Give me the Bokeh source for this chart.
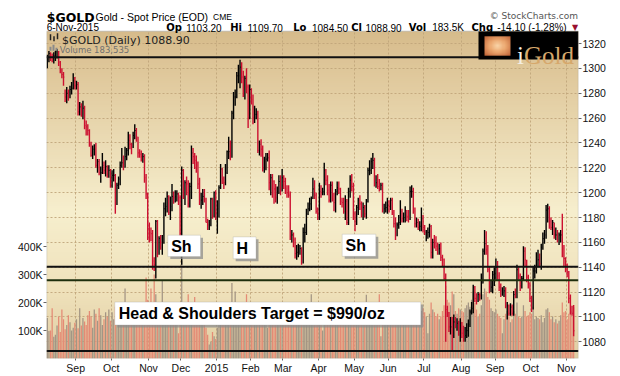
import numpy as np
import pandas as pd
from bokeh.plotting import figure
from bokeh.models import Range1d, LinearAxis, FixedTicker, Label, BoxAnnotation
from bokeh.embed import file_html
from bokeh.resources import INLINE

# ---------------- data ----------------
START = "2014-08-06"
END = "2015-11-06"
HOLIDAYS = ["2014-12-25", "2015-01-01"]

close = [
    # Aug 2014
    1307, 1312, 1310, 1309, 1310, 1314, 1315, 1305, 1298, 1295, 1293, 1277, 1280, 1277, 1283, 1284, 1290, 1286,
    # Sep 2014
    1287, 1265, 1269, 1262, 1268, 1254, 1253, 1250, 1239, 1230, 1235, 1235, 1222, 1225, 1216, 1216, 1222, 1218, 1221, 1215, 1218, 1209,
    # Oct 2014
    1214, 1214, 1192, 1206, 1211, 1222, 1224, 1222, 1229, 1234, 1242, 1239, 1238, 1246, 1250, 1245, 1232, 1231, 1229, 1229, 1212, 1199, 1171,
    # Nov 2014
    1168, 1167, 1145, 1142, 1177, 1151, 1163, 1160, 1161, 1187, 1189, 1197, 1184, 1189, 1197, 1196, 1197, 1199, 1196, 1167,
    # Dec 2014
    1218, 1198, 1208, 1207, 1191, 1205, 1232, 1229, 1226, 1222, 1207, 1194, 1194, 1197, 1195, 1176, 1174, 1174, 1195, 1181, 1200, 1184,
    # Jan 2015
    1187, 1204, 1219, 1211, 1208, 1216, 1233, 1233, 1230, 1264, 1277, 1277, 1294, 1294, 1301, 1293, 1279, 1292, 1285, 1260, 1283,
    # Feb 2015
    1275, 1260, 1263, 1263, 1234, 1239, 1235, 1220, 1220, 1227, 1228, 1208, 1212, 1209, 1203, 1196, 1201, 1209, 1204, 1212,
    # Mar 2015
    1209, 1203, 1200, 1198, 1165, 1166, 1162, 1151, 1152, 1153, 1155, 1148, 1168, 1168, 1183, 1187, 1191, 1195, 1203, 1198, 1185, 1183,
    # Apr 2015
    1201, 1200, 1201, 1218, 1210, 1202, 1194, 1206, 1195, 1192, 1201, 1204, 1203, 1193, 1192, 1185, 1193, 1176, 1201, 1210, 1205, 1182,
    # May 2015
    1177, 1188, 1194, 1191, 1183, 1188, 1183, 1193, 1218, 1218, 1225, 1226, 1207, 1208, 1205, 1204, 1206, 1186, 1187, 1188, 1190,
    # Jun 2015
    1189, 1194, 1184, 1175, 1168, 1174, 1176, 1185, 1179, 1180, 1186, 1181, 1180, 1201, 1201, 1185, 1175, 1176, 1172, 1173, 1179, 1172,
    # Jul 2015
    1168, 1168, 1168, 1173, 1152, 1160, 1159, 1157, 1155, 1155, 1148, 1146, 1131, 1106, 1104, 1092, 1092, 1085, 1096, 1095, 1095, 1088, 1095,
    # Aug 2015
    1087, 1085, 1085, 1089, 1094, 1104, 1107, 1124, 1115, 1113, 1118, 1117, 1127, 1153, 1159, 1154, 1138, 1124, 1124, 1134, 1135,
    # Sep 2015
    1140, 1133, 1124, 1121, 1121, 1121, 1109, 1109, 1103, 1108, 1103, 1118, 1117, 1138, 1133, 1125, 1131, 1153, 1146, 1132, 1127, 1115,
    # Oct 2015
    1113, 1137, 1137, 1146, 1146, 1143, 1156, 1163, 1166, 1186, 1187, 1177, 1172, 1176, 1166, 1166, 1162, 1166, 1166, 1155, 1147, 1142,
    # Nov 2015
    1136, 1115, 1104, 1103, 1088.9,
]

high = [
    1311, 1314, 1313, 1312, 1313, 1314, 1315, 1314, 1306, 1300, 1297, 1283, 1285, 1283, 1286, 1289, 1296, 1293,
    1290, 1289, 1273, 1272, 1274, 1270, 1258, 1255, 1251, 1241, 1238, 1239, 1240, 1227, 1227, 1221, 1232, 1225, 1226, 1222, 1222, 1219,
    1218, 1219, 1215, 1208, 1213, 1225, 1236, 1230, 1237, 1236, 1249, 1247, 1240, 1249, 1255, 1252, 1245, 1235, 1234, 1232, 1231, 1215, 1200,
    1176, 1172, 1170, 1148, 1178, 1178, 1165, 1166, 1166, 1192, 1196, 1201, 1198, 1197, 1207, 1201, 1202, 1202, 1200, 1198,
    1221, 1219, 1210, 1213, 1210, 1208, 1238, 1236, 1232, 1230, 1225, 1212, 1200, 1203, 1203, 1196, 1179, 1178, 1196, 1196, 1201, 1202,
    1194, 1206, 1223, 1220, 1213, 1223, 1234, 1245, 1242, 1266, 1281, 1283, 1297, 1303, 1307, 1305, 1298, 1294, 1300, 1287, 1287,
    1284, 1279, 1270, 1268, 1266, 1242, 1243, 1238, 1229, 1232, 1232, 1234, 1215, 1215, 1210, 1207, 1205, 1214, 1214, 1219,
    1214, 1212, 1206, 1206, 1201, 1170, 1168, 1164, 1158, 1159, 1158, 1156, 1172, 1175, 1187, 1192, 1196, 1197, 1212, 1210, 1200, 1188,
    1208, 1206, 1204, 1224, 1219, 1214, 1207, 1209, 1209, 1200, 1203, 1209, 1209, 1204, 1196, 1196, 1198, 1195, 1204, 1214, 1215, 1208,
    1185, 1190, 1196, 1198, 1193, 1192, 1190, 1195, 1220, 1226, 1228, 1232, 1228, 1214, 1215, 1211, 1208, 1208, 1191, 1193, 1196,
    1194, 1196, 1196, 1186, 1180, 1176, 1182, 1194, 1187, 1184, 1189, 1186, 1186, 1205, 1206, 1204, 1188, 1180, 1179, 1177, 1188, 1182,
    1174, 1170, 1172, 1175, 1174, 1163, 1166, 1165, 1160, 1159, 1160, 1150, 1147, 1135, 1109, 1104, 1100, 1100, 1102, 1100, 1099, 1097, 1099,
    1096, 1093, 1092, 1095, 1098, 1106, 1112, 1126, 1125, 1119, 1120, 1119, 1135, 1155, 1170, 1169, 1158, 1141, 1129, 1137, 1140,
    1147, 1145, 1136, 1127, 1124, 1125, 1124, 1112, 1110, 1111, 1110, 1121, 1123, 1142, 1140, 1135, 1133, 1157, 1156, 1146, 1134, 1128,
    1117, 1141, 1142, 1152, 1154, 1151, 1159, 1168, 1170, 1190, 1191, 1189, 1180, 1178, 1176, 1172, 1170, 1168, 1170, 1183, 1158, 1148,
    1143, 1137, 1118, 1109, 1109.7,
]

low = [
    1300, 1305, 1306, 1305, 1304, 1306, 1308, 1302, 1296, 1292, 1286, 1273, 1272, 1274, 1276, 1279, 1283, 1283,
    1283, 1262, 1262, 1261, 1259, 1251, 1246, 1246, 1237, 1229, 1227, 1230, 1220, 1216, 1214, 1208, 1215, 1215, 1213, 1212, 1212, 1204,
    1204, 1209, 1183, 1190, 1203, 1206, 1220, 1218, 1220, 1226, 1230, 1235, 1231, 1236, 1243, 1241, 1228, 1228, 1225, 1224, 1208, 1195, 1162,
    1160, 1161, 1138, 1137, 1131, 1148, 1150, 1154, 1150, 1159, 1181, 1184, 1182, 1178, 1185, 1191, 1192, 1193, 1190, 1160,
    1142, 1195, 1190, 1198, 1188, 1188, 1195, 1223, 1219, 1216, 1203, 1190, 1187, 1190, 1192, 1176, 1170, 1170, 1173, 1179, 1180, 1178,
    1167, 1180, 1203, 1207, 1203, 1206, 1215, 1227, 1226, 1228, 1259, 1270, 1276, 1288, 1284, 1288, 1277, 1275, 1280, 1252, 1259,
    1271, 1255, 1256, 1259, 1232, 1230, 1229, 1217, 1216, 1218, 1225, 1202, 1198, 1196, 1191, 1192, 1191, 1199, 1198, 1201,
    1203, 1199, 1196, 1196, 1162, 1160, 1156, 1147, 1146, 1148, 1150, 1142, 1143, 1160, 1166, 1182, 1185, 1186, 1195, 1195, 1183, 1178,
    1178, 1196, 1198, 1198, 1206, 1198, 1192, 1192, 1193, 1185, 1184, 1198, 1199, 1190, 1188, 1183, 1178, 1174, 1174, 1196, 1201, 1178,
    1169, 1174, 1182, 1186, 1180, 1178, 1180, 1179, 1192, 1214, 1215, 1219, 1205, 1204, 1203, 1201, 1202, 1184, 1183, 1184, 1183,
    1184, 1186, 1182, 1172, 1162, 1165, 1171, 1174, 1176, 1176, 1176, 1177, 1176, 1178, 1196, 1183, 1172, 1172, 1170, 1169, 1169, 1168,
    1166, 1161, 1163, 1164, 1147, 1147, 1155, 1153, 1150, 1150, 1145, 1141, 1130, 1080, 1100, 1088, 1086, 1072, 1083, 1091, 1089, 1085, 1080,
    1083, 1080, 1080, 1083, 1084, 1092, 1102, 1103, 1112, 1110, 1112, 1113, 1114, 1127, 1150, 1150, 1136, 1119, 1120, 1119, 1125,
    1130, 1130, 1121, 1116, 1117, 1116, 1107, 1098, 1101, 1101, 1101, 1101, 1115, 1115, 1130, 1121, 1123, 1129, 1141, 1128, 1123, 1112,
    1104, 1106, 1131, 1135, 1140, 1141, 1138, 1154, 1159, 1163, 1176, 1171, 1170, 1166, 1163, 1162, 1160, 1158, 1160, 1148, 1141, 1136,
    1132, 1111, 1102, 1101, 1084.5,
]

volume_k = [
    145, 98, 100, 180, 78, 85, 118, 150, 95, 175, 140, 105, 120, 155, 130, 100, 110, 128,
    140, 108, 180, 118, 145, 132, 120, 155, 170, 150, 110, 175, 160, 135, 180, 155, 120, 140, 165, 150, 175, 135,
    165, 140, 185, 150, 130, 175, 160, 145, 250, 170, 180, 165, 140, 150, 175, 160, 145, 130, 155, 170, 190, 290, 210,
    200, 250, 190, 300, 230, 195, 180, 175, 280, 190, 200, 185, 170, 195, 165, 150, 130, 160, 90, 180,
    350, 190, 180, 175, 230, 175, 195, 185, 220, 180, 190, 185, 170, 175, 160, 110, 85, 50, 60, 95, 80, 70,
    110, 180, 200, 170, 160, 175, 190, 185, 180, 270, 200, 240, 195, 190, 185, 180, 175, 170, 230, 190, 195,
    185, 190, 175, 160, 195, 165, 180, 195, 170, 160, 110, 190, 165, 150, 170, 155, 140, 160, 150, 165,
    150, 145, 140, 150, 195, 160, 165, 175, 155, 150, 140, 160, 190, 175, 180, 155, 150, 230, 170, 155, 160, 185,
    175, 160, 100, 180, 165, 150, 140, 155, 150, 160, 170, 145, 140, 150, 130, 145, 160, 175, 165, 180, 190, 170,
    165, 150, 140, 160, 145, 155, 130, 228, 185, 170, 160, 175, 180, 150, 140, 230, 80, 160, 140, 145, 170,
    145, 150, 160, 170, 190, 150, 140, 160, 145, 130, 140, 150, 160, 195, 175, 160, 165, 150, 140, 130, 170, 180,
    165, 150, 90, 160, 200, 175, 165, 150, 160, 140, 150, 170, 190, 260, 210, 200, 190, 240, 230, 170, 160, 180, 175,
    170, 165, 180, 190, 200, 185, 210, 240, 200, 175, 150, 160, 190, 230, 250, 240, 220, 210, 180, 170, 165,
    175, 160, 150, 145, 90, 140, 160, 170, 150, 130, 140, 170, 160, 200, 150, 145, 150, 190, 170, 150, 155, 165,
    160, 185, 140, 150, 145, 140, 155, 130, 145, 175, 180, 165, 140, 150, 130, 140, 125, 135, 155, 200, 165, 170,
    140, 160, 165, 150, 183.5,
]

month_names = {1: "2015", 2: "Feb", 3: "Mar", 4: "Apr", 5: "May", 6: "Jun", 7: "Jul",
               8: "Aug", 9: "Sep", 10: "Oct", 11: "Nov", 12: "Dec"}
price_ticks = [1080, 1100, 1120, 1140, 1160, 1180, 1200, 1220, 1240, 1260, 1280, 1300, 1320]
vol_ticks = [100000, 200000, 300000, 400000]
vol_tick_labels = ["100K", "200K", "300K", "400K"]
levels = [1309.0, 1140.5, 1129.5, 1072.6]

# ---------------- geometry ----------------
dates = pd.bdate_range(START, END)
dates = dates[~dates.isin(pd.to_datetime(HOLIDAYS))]
n = len(dates)
assert n == len(close) == len(high) == len(low) == len(volume_k), (n, len(close), len(high), len(low), len(volume_k))

W, H = 620, 376
FL, FR, FB = 46, 578, 360       # frame covers header too (top at 0)
PLOT_TOP_PX = 31                # top of the price panel
X0, X1 = 0.0, 328.5
Y0 = 1066.6
PPX = 263.2 / 329.0             # dollars per pixel
PT = Y0 + (FB - PLOT_TOP_PX) * PPX   # price at top of chart panel
YT = Y0 + FB * PPX                   # price at canvas top
VMAX = 1170000 * FB / 329.0


def X(px):
    return X0 + (px - FL) / (FR - FL) * (X1 - X0)


def Y(py):
    return Y0 + (FB - py) * PPX


xs = np.arange(n) + 0.5
c = np.array(close, dtype=float)
prev = np.r_[c[0] - 1, c[:-1]]
up = c >= prev
pcol = np.where(up, "#000000", "#cc1030").tolist()
vcol = np.where(up, "#a39584", "#e48b75").tolist()

p = figure(width=W, height=H, x_range=Range1d(X0, X1), y_range=Range1d(Y0, YT),
           y_axis_location="right", output_backend="svg", toolbar_location=None,
           min_border_left=FL, min_border_right=W - FR, min_border_top=0,
           min_border_bottom=H - FB, title=None)
p.background_fill_color = "white"
p.border_fill_color = "white"
p.outline_line_color = None

# background gradient of the chart panel
NROW = 160
frac = 1 - (np.arange(NROW) + 0.5) / NROW
sf = [0.0, 0.08, 0.55, 0.80, 1.0]
Rc = np.interp(frac, sf, [214, 221, 247, 239, 224])
Gc = np.interp(frac, sf, [187, 196, 239, 225, 205])
Bc = np.interp(frac, sf, [139, 150, 206, 186, 163])
img = np.empty((NROW, 1), dtype=np.uint32)
v = img.view(dtype=np.uint8).reshape((NROW, 1, 4))
v[:, 0, 0] = Rc
v[:, 0, 1] = Gc
v[:, 0, 2] = Bc
v[:, 0, 3] = 255
bg = p.image_rgba(image=[img], x=X0, y=Y0, dw=X1 - X0, dh=PT - Y0)
bg.level = "image"

# grids
for g in (p.xgrid[0], p.ygrid[0]):
    g.grid_line_color = "#c0a57a"
    g.grid_line_dash = "2 2"
    g.grid_line_alpha = 0.9

# price axis (right)
pax = p.yaxis[0]
pax.ticker = FixedTicker(ticks=price_ticks)
pax.axis_line_color = None
pax.major_tick_out = 3
pax.major_tick_in = 0
pax.minor_tick_line_color = None
pax.major_tick_line_color = "#666666"
pax.major_label_standoff = 1
pax.major_label_text_font = "Liberation Sans"
pax.major_label_text_font_size = "10.5px"
pax.major_label_text_color = "#111111"

# volume axis (left)
p.extra_y_ranges = {"vol": Range1d(0, VMAX)}
vax = LinearAxis(y_range_name="vol", ticker=FixedTicker(ticks=vol_ticks),
                 major_label_overrides=dict(zip(vol_ticks, vol_tick_labels)))
vax.axis_line_color = None
vax.major_tick_out = 3
vax.major_tick_in = 0
vax.minor_tick_line_color = None
vax.major_tick_line_color = "#666666"
vax.major_label_standoff = 1
vax.major_label_text_font = "Liberation Sans"
vax.major_label_text_font_size = "10.5px"
vax.major_label_text_color = "#111111"
p.add_layout(vax, "left")

# month axis
month_ticks = [i for i in range(1, n) if dates[i].month != dates[i - 1].month]
overrides = {t: month_names[dates[t].month] for t in month_ticks}
xax = p.xaxis[0]
xax.ticker = FixedTicker(ticks=month_ticks)
xax.major_label_overrides = overrides
xax.axis_line_color = None
xax.major_tick_out = 2
xax.major_tick_in = 0
xax.minor_tick_line_color = None
xax.major_tick_line_color = "#666666"
xax.major_label_standoff = 1
xax.major_label_text_font = "Liberation Sans"
xax.major_label_text_font_size = "10.5px"
xax.major_label_text_color = "#111111"

# keep vertical grid lines inside the chart panel
try:
    p.xgrid[0].cross_bounds = (Y0, PT)
except Exception:
    p.xgrid[0].visible = False
    p.segment(x0=month_ticks, x1=month_ticks, y0=Y0, y1=PT, line_color="#c0a57a",
              line_dash="2 2", line_alpha=0.9)

# volume bars
p.vbar(x=xs, top=np.array(volume_k) * 1000.0, bottom=0, width=0.78, y_range_name="vol",
       fill_color=vcol, line_color=None)

# price bars
p.segment(x0=xs, x1=xs, y0=low, y1=high, line_color=pcol, line_width=1.4)
p.segment(x0=xs, x1=xs + 0.5, y0=close, y1=close, line_color=pcol, line_width=1)

# support / resistance lines
level_colors = ["#111111", "#111111", "#1d2e0c", "#111111"]
p.segment(x0=[X0] * 4, x1=[X1] * 4, y0=levels, y1=levels, line_color=level_colors, line_width=2)

# chart panel border
p.add_layout(BoxAnnotation(left=X0, right=X1, bottom=Y0, top=PT, fill_alpha=0,
                           line_color="#8a8a8a", line_width=1.5))

# logo
p.quad(left=X(478), right=X1, top=PT, bottom=Y(59.3), fill_color="black", line_color=None)
S = 24
yy, xx = np.mgrid[0:S, 0:S]
d = np.sqrt(((xx - (S - 1) / 2) / (S / 2)) ** 2 + ((yy - (S - 1) / 2) / (S / 2)) ** 2)
lg = np.empty((S, S), dtype=np.uint32)
lv = lg.view(dtype=np.uint8).reshape((S, S, 4))
lv[:, :, 0] = np.interp(d, [0, 0.6, 1.4], [250, 236, 190])
lv[:, :, 1] = np.interp(d, [0, 0.6, 1.4], [214, 168, 96])
lv[:, :, 2] = np.interp(d, [0, 0.6, 1.4], [170, 112, 52])
lv[:, :, 3] = 255
p.image_rgba(image=[lg], x=X(484), y=Y(55.5), dw=X(510) - X(484), dh=Y(36) - Y(55.5))


def lab(text, px, y, size, bold=False, font="Liberation Sans", color="#000000",
        align="left", baseline="alphabetic"):
    p.add_layout(Label(x=px, y=y, text=text, text_font=font, text_font_size=size,
                       text_font_style="bold" if bold else "normal", text_color=color,
                       text_align=align, text_baseline=baseline))


lab("i", X(516.5), Y(55), "25px", font="Liberation Serif", color="#f4efe4")
lab("Gold", X(523.5), Y(55), "25px", font="Liberation Serif", color="#d6a86c")

# in-panel legend
p.segment(x0=[X(50), X(53.5), X(57)], x1=[X(50), X(53.5), X(57)],
          y0=[Y(34), Y(36), Y(33)], y1=[Y(40), Y(41), Y(39)], line_color="#222222", line_width=1.5)
p.quad(left=[X(49), X(52), X(55)], right=[X(51), X(54), X(57)],
       top=[Y(46.5), Y(44.5), Y(47.5)], bottom=[Y(50.5)] * 3, fill_color="#8a8a8a", line_color=None)
lab("$GOLD (Daily) 1088.90", X(61.5), Y(40.5), "11px", font="DejaVu Sans", color="#222222")
lab("Volume 183,535", X(59.3), Y(50), "8.5px", font="DejaVu Sans", color="#707070")

# header
lab("$GOLD", X(46.2), Y(16.7), "12.5px", bold=True, font="DejaVu Sans")
lab("Gold - Spot Price (EOD)", X(95), Y(16.3), "10.5px")
lab("CME", X(212.5), Y(16.3), "8.5px")
lab("\u00a9 StockCharts.com", X(577.5), Y(15.3), "9px", font="DejaVu Sans", color="#555555", align="right")
lab("6-Nov-2015", X(46.2), Y(27.3), "10px")
pieces = [("Op", 165.7, True), ("1103.20", 185.7, False), ("Hi", 229.7, True), ("1109.70", 247, False),
          ("Lo", 292.7, True), ("1084.50", 311.5, False), ("Cl", 350.7, True), ("1088.90", 365, False),
          ("Vol", 408.3, True), ("183.5K", 431.7, False), ("Chg", 471, True), ("-14.10 (-1.28%)", 496.7, False)]
for txt, px, b in pieces:
    if b:
        lab(txt, X(px), Y(27.3), "10px", bold=True, font="DejaVu Sans")
    else:
        lab(txt, X(px), Y(27.3), "10px")
lab("\u25bc", X(574.5), Y(27.3), "8px", font="DejaVu Sans", color="#99102e", align="center")

# annotation boxes
boxes = [
    ("Sh", 167.3, 200.0, 236.0, 257.5, 170.7, 247.0),
    ("H", 232.7, 255.5, 237.7, 259.7, 236.0, 249.0),
    ("Sh", 341.7, 375.3, 235.0, 257.3, 345.0, 246.5),
    ("Head & Shoulders Target = $990/oz", 114.3, 420.3, 303.3, 326.3, 118.3, 315.2),
]
for txt, l, r, t, b, tx, ty in boxes:
    p.add_layout(BoxAnnotation(left=X(l + 2.5), right=X(r + 2.5), top=Y(t + 2.5), bottom=Y(b + 2.5),
                               fill_color="#8c8c8c", fill_alpha=0.75, line_color=None))
    p.add_layout(BoxAnnotation(left=X(l), right=X(r), top=Y(t), bottom=Y(b),
                               fill_color="white", fill_alpha=1.0, line_color="#a0a0a0", line_width=1))
    lab(txt, X(tx), Y(ty), "16px", bold=True, baseline="middle")

open("out.html", "w").write(file_html(p, INLINE))
